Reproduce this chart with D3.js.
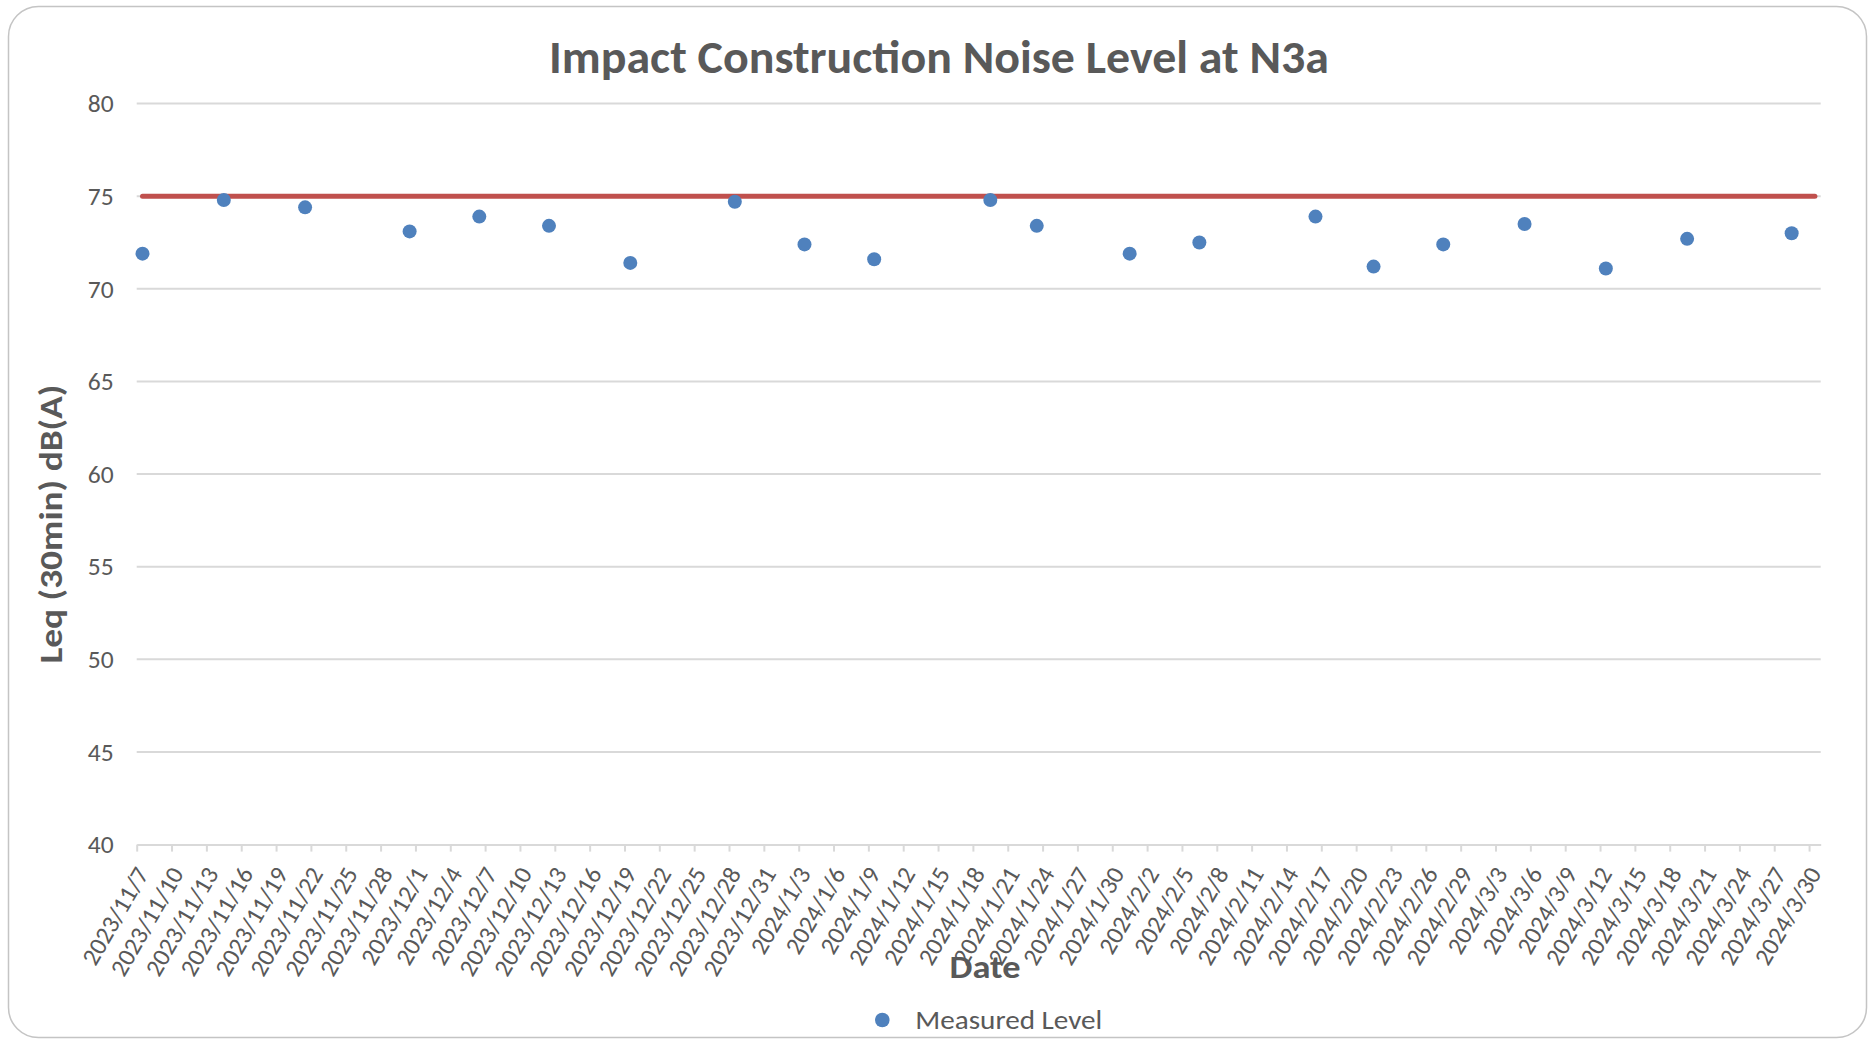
<!DOCTYPE html>
<html>
<head>
<meta charset="utf-8">
<script src="https://cdn.jsdelivr.net/npm/d3@7"></script>
<style>
  html, body { margin: 0; padding: 0; background: #ffffff; }
  svg { display: block; }
  text { font-family: Calibri, Carlito, Lato, "Noto Sans", sans-serif; fill: #595959; }
</style>
</head>
<body>
<svg id="chart" width="1868" height="1040"></svg>
<script>
// Measurement dates and Leq(30min) readings at station N3a
const measureDates = ["2023-11-07", "2023-11-14", "2023-11-21", "2023-11-30", "2023-12-06",
  "2023-12-12", "2023-12-19", "2023-12-28", "2024-01-03", "2024-01-09", "2024-01-19",
  "2024-01-23", "2024-01-31", "2024-02-06", "2024-02-16", "2024-02-21", "2024-02-27",
  "2024-03-05", "2024-03-12", "2024-03-19", "2024-03-28"];
const measuredLevel = [71.9, 74.8, 74.4, 73.1, 73.9, 73.4, 71.4, 74.7, 72.4, 71.6, 74.8,
  73.4, 71.9, 72.5, 73.9, 71.2, 72.4, 73.5, 71.1, 72.7, 73.0];

// Noise limit line across the whole reporting period
const limitDates = ["2023-11-07", "2024-03-30"];
const limitLevel = [75, 75];

// Axis settings
const axisStart = "2023-11-07";
const axisEnd = "2024-03-31";     // exclusive end: last day slot is 2024/3/30
const tickEveryDays = 3;
const yTicks = [40, 45, 50, 55, 60, 65, 70, 75, 80];

const parse = d3.utcParse("%Y-%m-%d");
const fmt = d3.utcFormat("%Y/%-m/%-d");
const halfDay = 12 * 3600 * 1000;

const svg = d3.select("#chart");

// Chart card
svg.append("rect")
  .attr("x", 8.5).attr("y", 6.5)
  .attr("width", 1858).attr("height", 1031)
  .attr("rx", 30).attr("ry", 30)
  .attr("fill", "#ffffff")
  .attr("stroke", "#c4c4c4")
  .attr("stroke-width", 1.5);

const plot = { left: 136.7, right: 1820.7, top: 103.6, bottom: 844.6 };

const x = d3.scaleUtc()
  .domain([parse(axisStart), parse(axisEnd)])
  .range([plot.left, plot.right]);

const y = d3.scaleLinear()
  .domain([40, 80])
  .range([plot.bottom, plot.top]);

// Horizontal gridlines
svg.append("g")
  .selectAll("line")
  .data(yTicks.filter(v => v !== 40))
  .join("line")
  .attr("x1", plot.left).attr("x2", plot.right)
  .attr("y1", d => y(d)).attr("y2", d => y(d))
  .attr("stroke", "#d9d9d9")
  .attr("stroke-width", 2);

// Y axis labels
const yAxis = svg.append("g")
  .attr("transform", `translate(${plot.left - 23},0)`)
  .call(d3.axisLeft(y).tickValues(yTicks).tickSize(0).tickPadding(0));
yAxis.select(".domain").remove();
yAxis.selectAll("text")
  .attr("font-size", 25.5)
  .attr("fill", "#595959")
  .style("font-family", "Calibri, Carlito, Lato, sans-serif");

// X axis: a tick every third day, labels centred on the day slot
const allDays = d3.utcDay.range(parse(axisStart), parse(axisEnd));
const tickDays = allDays.filter((d, i) => i % tickEveryDays === 0);

const xAxis = svg.append("g")
  .attr("transform", `translate(0,${plot.bottom})`)
  .call(d3.axisBottom(x).tickValues(tickDays).tickFormat(fmt).tickSize(7).tickSizeOuter(0));
xAxis.select(".domain").attr("stroke", "#d9d9d9").attr("stroke-width", 2);
xAxis.selectAll(".tick line").attr("stroke", "#d9d9d9").attr("stroke-width", 2);
const slotHalf = x(new Date(parse(axisStart).getTime() + halfDay)) - plot.left;
xAxis.selectAll(".tick text")
  .attr("font-size", 25)
  .attr("fill", "#595959")
  .style("font-family", "Calibri, Carlito, Lato, sans-serif")
  .attr("text-anchor", "end")
  .attr("x", 0).attr("y", 0).attr("dy", "0.35em")
  .attr("transform", `translate(${slotHalf - 1},24.5) rotate(-60)`);

// Limit line
const limitData = limitDates.map((d, i) => ({ date: parse(d), value: limitLevel[i] }));
svg.append("path")
  .datum(limitData)
  .attr("fill", "none")
  .attr("stroke", "#c0504d")
  .attr("stroke-width", 5)
  .attr("stroke-linecap", "round")
  .attr("d", d3.line()
    .x(d => x(new Date(d.date.getTime() + halfDay)))
    .y(d => y(d.value)));

// Measured points
const points = measureDates.map((d, i) => ({ date: parse(d), value: measuredLevel[i] }));
svg.append("g")
  .selectAll("circle")
  .data(points)
  .join("circle")
  .attr("cx", d => x(new Date(d.date.getTime() + halfDay)))
  .attr("cy", d => y(d.value))
  .attr("r", 7)
  .attr("fill", "#4f81bd");

// Titles
svg.append("text")
  .attr("x", 939).attr("y", 72.5)
  .attr("text-anchor", "middle")
  .attr("font-size", 46).attr("font-weight", 700)
  .attr("textLength", 780).attr("lengthAdjust", "spacingAndGlyphs")
  .text("Impact Construction Noise Level at N3a");

svg.append("text")
  .attr("transform", "translate(62,524) rotate(-90)")
  .attr("text-anchor", "middle")
  .attr("font-size", 32).attr("font-weight", 700)
  .attr("textLength", 279).attr("lengthAdjust", "spacingAndGlyphs")
  .text("Leq (30min) dB(A)");

svg.append("text")
  .attr("x", 985).attr("y", 978)
  .attr("text-anchor", "middle")
  .attr("font-size", 32).attr("font-weight", 700)
  .attr("textLength", 71).attr("lengthAdjust", "spacingAndGlyphs")
  .text("Date");

// Legend
const legend = svg.append("g").attr("transform", "translate(882.3,1020)");
legend.append("circle").attr("r", 7.3).attr("fill", "#4f81bd");
legend.append("text")
  .attr("x", 33).attr("y", 9.3)
  .attr("font-size", 27)
  .attr("textLength", 187).attr("lengthAdjust", "spacingAndGlyphs")
  .text("Measured Level");
</script>
</body>
</html>
